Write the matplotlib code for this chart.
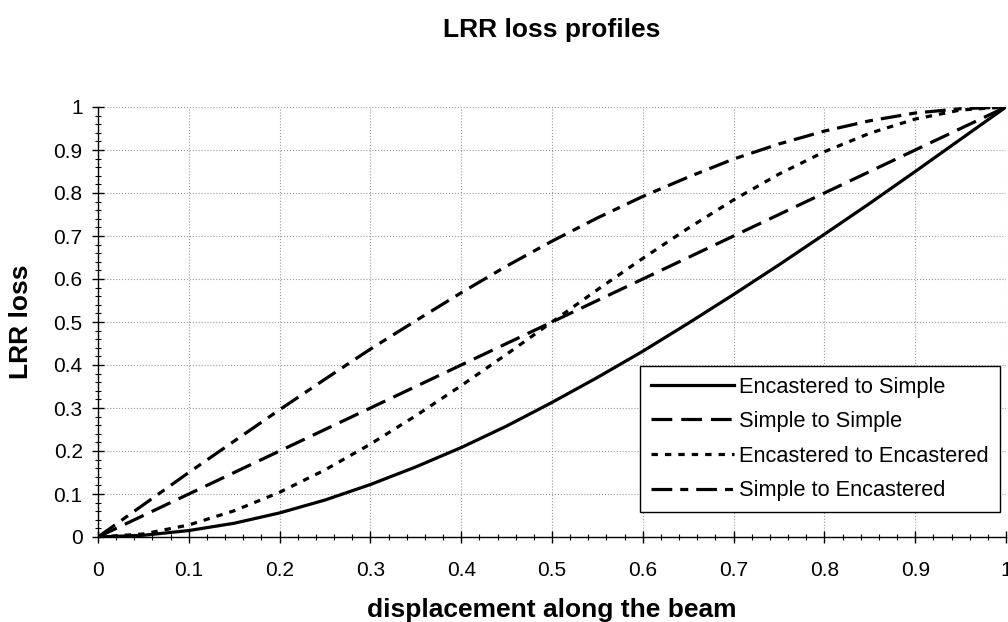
import numpy as np
import matplotlib
matplotlib.use("Agg")
import matplotlib.pyplot as plt
from matplotlib.ticker import MultipleLocator

plt.rcParams['font.family'] = ['Liberation Sans', 'DejaVu Sans']

# displacement along the beam (fraction of span)
x = [0.0, 0.05, 0.1, 0.15, 0.2, 0.25, 0.3, 0.35, 0.4, 0.45, 0.5,
     0.55, 0.6, 0.65, 0.7, 0.75, 0.8, 0.85, 0.9, 0.95, 1.0]

# values
enc_to_simple = [0.0, 0.004, 0.015, 0.032, 0.056, 0.086, 0.122, 0.163, 0.208, 0.258, 0.313,
                 0.371, 0.432, 0.497, 0.564, 0.633, 0.704, 0.776, 0.850, 0.925, 1.0]
simple_to_simple = [0.0, 0.05, 0.1, 0.15, 0.2, 0.25, 0.3, 0.35, 0.4, 0.45, 0.5,
                    0.55, 0.6, 0.65, 0.7, 0.75, 0.8, 0.85, 0.9, 0.95, 1.0]
enc_to_enc = [0.0, 0.007, 0.028, 0.061, 0.104, 0.156, 0.216, 0.282, 0.352, 0.425, 0.5,
              0.575, 0.648, 0.718, 0.784, 0.844, 0.896, 0.939, 0.972, 0.993, 1.0]
simple_to_enc = [0.0, 0.075, 0.150, 0.223, 0.296, 0.367, 0.437, 0.503, 0.568, 0.630, 0.688,
                 0.742, 0.792, 0.837, 0.879, 0.914, 0.944, 0.968, 0.986, 0.996, 1.0]

labels = ['Encastered to Simple', 'Simple to Simple',
          'Encastered to Encastered', 'Simple to Encastered']
ticks = [0, 0.1, 0.2, 0.3, 0.4, 0.5, 0.6, 0.7, 0.8, 0.9, 1]
tick_labels = ['0', '0.1', '0.2', '0.3', '0.4', '0.5', '0.6', '0.7', '0.8', '0.9', '1']

fig = plt.figure(figsize=(10.08, 6.22), dpi=100)
ax = fig.add_axes([98 / 1008, 1 - 537 / 622, 908 / 1008, 430 / 622])

lw = 2.3
ax.plot(x, enc_to_simple, color='black', lw=lw, label=labels[0])
ax.plot(x, simple_to_simple, color='black', lw=lw, dashes=(6.5, 2.8), label=labels[1])
ax.plot(x, enc_to_enc, color='black', lw=lw, dashes=(2, 2.2), label=labels[2])
ax.plot(x, simple_to_enc, color='black', lw=lw, dashes=(6.5, 2.5, 2.5, 2.5), label=labels[3])

ax.set_xlim(0, 1)
ax.set_ylim(0, 1)
ax.set_xticks(ticks)
ax.set_xticklabels(tick_labels)
ax.set_yticks(ticks)
ax.set_yticklabels(tick_labels)
ax.xaxis.set_minor_locator(MultipleLocator(0.02))
ax.yaxis.set_minor_locator(MultipleLocator(0.02))
ax.tick_params(which='major', direction='inout', length=8, width=1, labelsize=15, color='black')
ax.tick_params(axis='x', which='major', pad=13)
ax.tick_params(axis='y', which='major', pad=7)
ax.tick_params(which='minor', direction='inout', length=5, width=0.8, color='black')

for s in ['top', 'right']:
    ax.spines[s].set_visible(False)
ax.spines['left'].set_linewidth(1)
ax.spines['bottom'].set_linewidth(1)
ax.grid(True, which='major', linestyle=':', color='#999999', lw=0.8)
ax.set_axisbelow(True)

ax.set_xlabel('displacement along the beam', fontsize=19, fontweight='bold', va='center')
ax.xaxis.set_label_coords(0.5, (537 - 610) / 430)
ax.set_ylabel('LRR loss', fontsize=19, fontweight='bold', va='center')
ax.yaxis.set_label_coords((21 - 98) / 908, 0.5)

fig.text(552 / 1008, 1 - 30 / 622, 'LRR loss profiles', fontsize=19,
         fontweight='bold', ha='center', va='center')

leg = ax.legend(loc='lower right', bbox_to_anchor=(0.993, 0.058), borderaxespad=0,
                fontsize=15.7, handlelength=3.8, handletextpad=0.25, labelspacing=0.62,
                frameon=True, fancybox=False, framealpha=1, borderpad=0.5)
leg.get_frame().set_edgecolor('black')
leg.get_frame().set_linewidth(1)

fig.savefig('out.png', dpi=100)
